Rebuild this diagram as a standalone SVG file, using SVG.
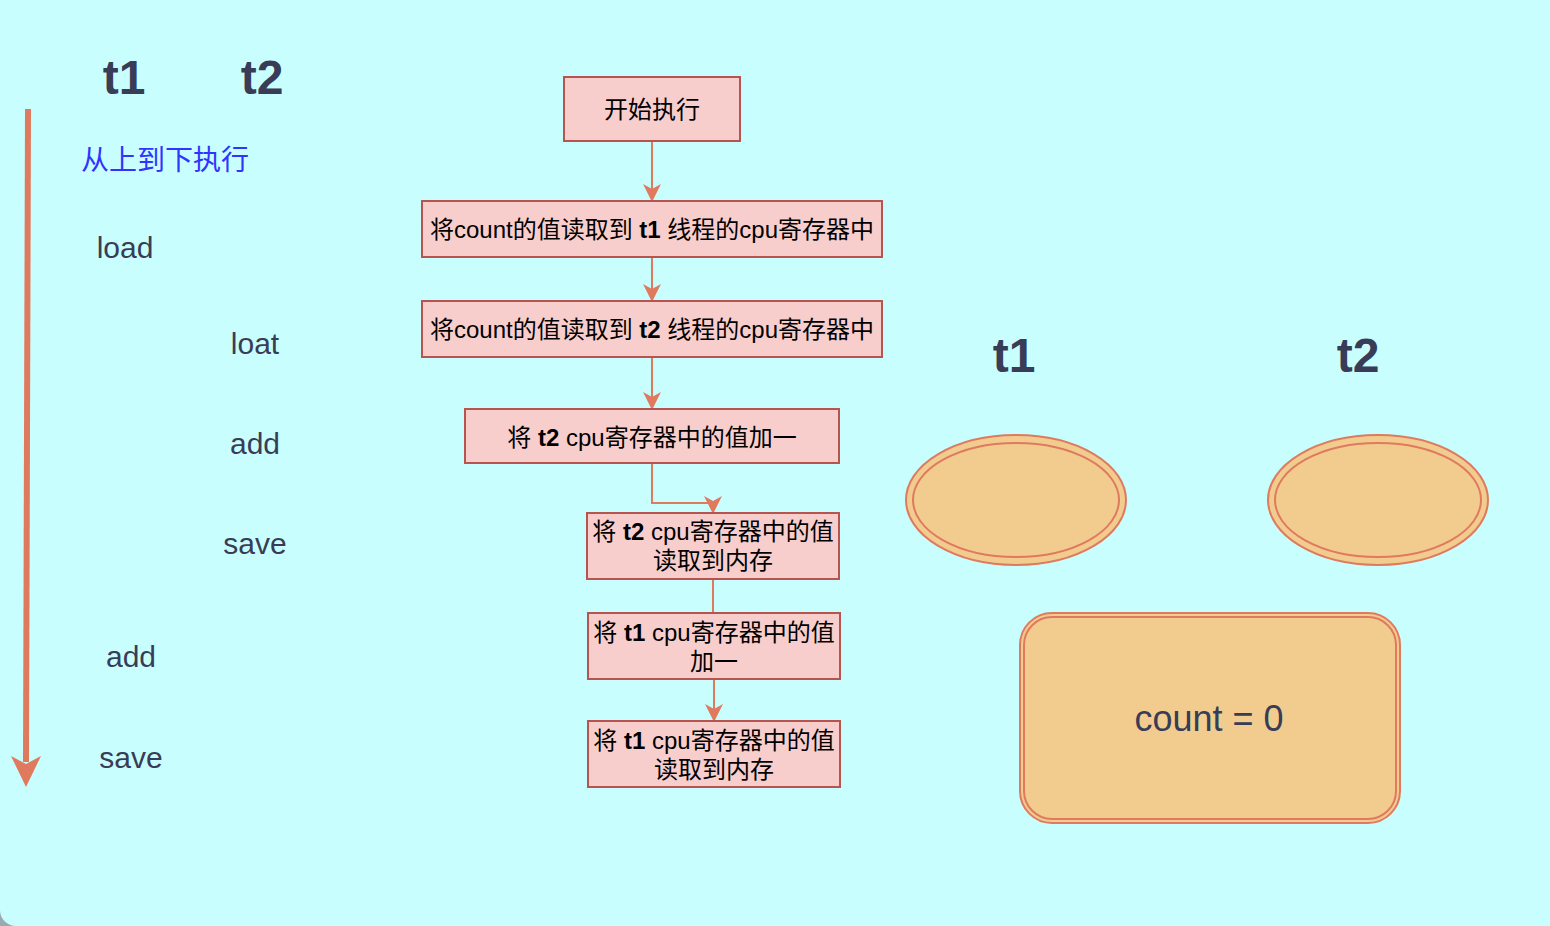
<svg xmlns="http://www.w3.org/2000/svg" width="1550" height="926" viewBox="0 0 1550 926">
<style>
.bg{fill:#C8FFFE}
.box{fill:#F8CECC;stroke:#B85450;stroke-width:2}
.bt{font-family:"Liberation Sans","Noto Sans CJK SC",sans-serif;font-size:24px;fill:#000;text-anchor:middle}
.big{font-family:"Liberation Sans",Arial,sans-serif;font-size:48px;font-weight:bold;fill:#393C56;text-anchor:middle}
.lbl{font-family:"Liberation Sans",Arial,sans-serif;font-size:30px;fill:#393C56;text-anchor:middle}
.con{fill:none;stroke:#E07A5F;stroke-width:2}
.orange{fill:#F2CC8F;stroke:#E07A5F;stroke-width:2}
</style>
<defs>
<marker id="arr" viewBox="0 0 18 18" markerUnits="userSpaceOnUse" markerWidth="18" markerHeight="18" refX="17" refY="9" orient="auto">
<path d="M0,0 L18,9 L0,18 L5,9 Z" fill="#E07A5F"/>
</marker>
</defs>
<rect class="bg" x="0" y="0" width="1550" height="926"/>
<path d="M0,910 A16,16 0 0 0 16,926 L0,926 Z" fill="#9AABB0"/>

<g id="timeline">
<line x1="28" y1="109" x2="26" y2="762" stroke="#E07A5F" stroke-width="6"/>
<path d="M11,756 L26,787 L41,756 L26,764 Z" fill="#E07A5F"/>
</g>

<g id="left-labels">
<text class="big" x="124" y="94">t1</text>
<text class="big" x="262" y="94">t2</text>
<text x="165" y="170" font-family="'Liberation Sans','Noto Sans CJK SC',sans-serif" font-size="28" fill="#3333FF" text-anchor="middle">从上到下执行</text>
<text class="lbl" x="125" y="258">load</text>
<text class="lbl" x="255" y="354">loat</text>
<text class="lbl" x="255" y="454">add</text>
<text class="lbl" x="255" y="554">save</text>
<text class="lbl" x="131" y="667">add</text>
<text class="lbl" x="131" y="768">save</text>
</g>

<g id="connectors">
<line class="con" x1="652" y1="141" x2="652" y2="201" marker-end="url(#arr)"/>
<line class="con" x1="652" y1="257" x2="652" y2="301" marker-end="url(#arr)"/>
<line class="con" x1="652" y1="357" x2="652" y2="409" marker-end="url(#arr)"/>
<path class="con" d="M652,463 L652,503 L713,503 L713,513" marker-end="url(#arr)"/>
<line class="con" x1="713" y1="579" x2="713" y2="613"/>
<line class="con" x1="714" y1="679" x2="714" y2="721" marker-end="url(#arr)"/>
</g>

<g id="n-start">
<rect class="box" x="564" y="77" width="176" height="64"/>
<text class="bt" x="652" y="118">开始执行</text>
</g>
<g id="n-load-t1">
<rect class="box" x="422" y="201" width="460" height="56"/>
<text class="bt" x="652" y="238">将count的值读取到 <tspan font-weight="bold">t1</tspan> 线程的cpu寄存器中</text>
</g>
<g id="n-load-t2">
<rect class="box" x="422" y="301" width="460" height="56"/>
<text class="bt" x="652" y="338">将count的值读取到 <tspan font-weight="bold">t2</tspan> 线程的cpu寄存器中</text>
</g>
<g id="n-add-t2">
<rect class="box" x="465" y="409" width="374" height="54"/>
<text class="bt" x="652" y="446">将 <tspan font-weight="bold">t2</tspan> cpu寄存器中的值加一</text>
</g>
<g id="n-save-t2">
<rect class="box" x="587" y="513" width="252" height="66"/>
<text class="bt" x="713" y="540">将 <tspan font-weight="bold">t2</tspan> cpu寄存器中的值</text>
<text class="bt" x="713" y="569">读取到内存</text>
</g>
<g id="n-add-t1">
<rect class="box" x="588" y="613" width="252" height="66"/>
<text class="bt" x="714" y="641">将 <tspan font-weight="bold">t1</tspan> cpu寄存器中的值</text>
<text class="bt" x="714" y="670">加一</text>
</g>
<g id="n-save-t1">
<rect class="box" x="588" y="721" width="252" height="66"/>
<text class="bt" x="714" y="749">将 <tspan font-weight="bold">t1</tspan> cpu寄存器中的值</text>
<text class="bt" x="714" y="778">读取到内存</text>
</g>

<g id="right-labels">
<text class="big" x="1014" y="372">t1</text>
<text class="big" x="1358" y="372">t2</text>
</g>
<g id="ellipse-t1">
<ellipse class="orange" cx="1016" cy="500" rx="110" ry="65"/>
<ellipse class="orange" cx="1016" cy="500" rx="103" ry="57"/>
</g>
<g id="ellipse-t2">
<ellipse class="orange" cx="1378" cy="500" rx="110" ry="65"/>
<ellipse class="orange" cx="1378" cy="500" rx="103" ry="57"/>
</g>
<g id="memory">
<rect class="orange" x="1020" y="613" width="380" height="210" rx="32" ry="32"/>
<rect class="orange" x="1024" y="617" width="372" height="202" rx="28" ry="28"/>
<text x="1209" y="731" font-family="'Liberation Sans',Arial,sans-serif" font-size="36" fill="#393C56" text-anchor="middle">count = 0</text>
</g>
</svg>
